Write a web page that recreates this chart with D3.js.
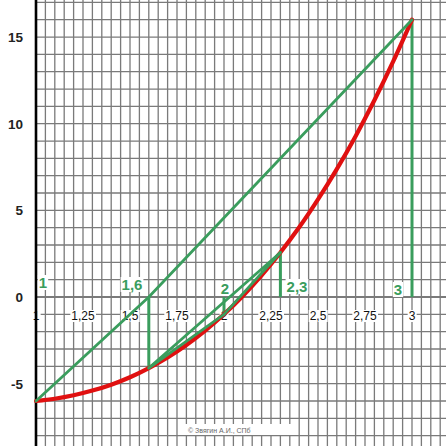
<!DOCTYPE html>
<html><head><meta charset="utf-8">
<script src="https://cdn.jsdelivr.net/npm/d3@7"></script>
<style>html,body{margin:0;padding:0;background:#fff;}svg{display:block;}</style>
</head><body>
<svg id="c" width="446" height="446"></svg>
<script>
// Curve points
const curveX = [1.0, 1.1, 1.2, 1.3, 1.4, 1.5, 1.6, 1.7, 1.8, 1.9, 2.0, 2.1, 2.2, 2.3, 2.4, 2.5, 2.6, 2.7, 2.8, 2.9, 3.0];
const curveY = [-6.0, -5.87, -5.67, -5.40, -5.06, -4.63, -4.10, -3.49, -2.77, -1.94, -1.0, 0.06, 1.25, 2.57, 4.02, 5.63, 7.38, 9.28, 11.35, 13.59, 16.0];
// Approximation points and their labels
const approxX = [1, 1.6, 2, 2.3, 3];
const approxY = [-6.0, -4.10, -1.0, 2.57, 16.0];
const approxLabels = ["1", "1,6", "2", "2,3", "3"];
// main chord drawn through the axis crossing at 1,6
const mainChordX = [1, 1.6, 3];
const mainChordY = [-6.0, 0, 16.0];
// other chord segments as index pairs into approx arrays
const chords = [[1, 3], [1, 2], [2, 3]];
// verticals from axis to curve (indices)
const verticals = [1, 2, 3, 4];
// axis tick labels
const xTickVals = [1, 1.25, 1.5, 1.75, 2, 2.25, 2.5, 2.75, 3];
const xTickLabels = ["1", "1,25", "1,5", "1,75", "2", "2,25", "2,5", "2,75", "3"];
const yTickVals = [15, 10, 5, 0, -5];

const svg = d3.select("#c");
const x = d3.scaleLinear().domain([1, 1 + 410 / 188]).range([36, 446]);
const y = d3.scaleLinear().domain([-(446 - 297) / 17.33, 297 / 17.33]).range([446, 0]);

const gridCol = "#7a7a7a";
const vx = d3.range(1, 64).map(i => 1 + i * 0.05).filter(v => x(v) < 446);
svg.append("g").selectAll("line").data(vx).join("line")
  .attr("x1", d => x(d)).attr("x2", d => x(d)).attr("y1", 0).attr("y2", 446)
  .attr("stroke", gridCol).attr("stroke-width", 1.3);
const hy = d3.range(-8, 18);
svg.append("g").selectAll("line").data(hy).join("line")
  .attr("x1", 36).attr("x2", 446).attr("y1", d => y(d)).attr("y2", d => y(d))
  .attr("stroke", gridCol).attr("stroke-width", 1.3);

// watermark
svg.append("rect").attr("x", 183).attr("y", 424).attr("width", 112).attr("height", 11).attr("fill", "#fff");
svg.append("text").attr("x", 188).attr("y", 433).attr("font-family", "Liberation Sans, Arial, sans-serif")
  .attr("font-size", 7).attr("fill", "#666").text("© Звягин А.И., СПб");

// x axis
svg.append("line").attr("x1", 36).attr("x2", 446).attr("y1", y(0)).attr("y2", y(0))
  .attr("stroke", "#7a7a7a").attr("stroke-width", 2.2);

function addBg(sel, pad) {
  sel.each(function () {
    const b = this.getBBox();
    d3.select(this.parentNode).insert("rect", () => this)
      .attr("x", b.x - pad).attr("y", b.y + 1).attr("width", b.width + 2 * pad).attr("height", b.height - 2)
      .attr("fill", "#fff");
  });
}

const xl = svg.append("g").selectAll("text").data(xTickVals).join("text")
  .attr("x", d => x(d)).attr("y", y(0) + 23).attr("text-anchor", "middle")
  .attr("font-family", "Liberation Sans, Arial, sans-serif").attr("font-size", 12).attr("fill", "#111")
  .text((d, i) => xTickLabels[i]);
addBg(xl, 1);

// y axis
svg.append("line").attr("x1", 36).attr("x2", 36).attr("y1", 0).attr("y2", 446)
  .attr("stroke", "#000").attr("stroke-width", 2.6);

svg.append("g").selectAll("text").data(yTickVals).join("text")
  .attr("x", 23).attr("y", d => y(d) + 5).attr("text-anchor", "end")
  .attr("font-family", "Liberation Sans, Arial, sans-serif").attr("font-weight", "bold")
  .attr("font-size", 13.5).attr("fill", "#222").text(d => d);

const green = "#3a9d5d";
const labPos = [[43, 288], [132, 290], [225, 294], [297, 292], [398, 295]];
const gl = svg.append("g").selectAll("text").data(approxLabels).join("text")
  .attr("x", (d, i) => labPos[i][0]).attr("y", (d, i) => labPos[i][1]).attr("text-anchor", "middle")
  .attr("font-family", "Liberation Sans, Arial, sans-serif").attr("font-weight", "bold")
  .attr("font-size", 15).attr("fill", green).text(d => d);
addBg(gl, 1);

svg.append("g").selectAll("line").data(verticals).join("line")
  .attr("x1", i => x(approxX[i])).attr("x2", i => x(approxX[i]))
  .attr("y1", y(0)).attr("y2", i => y(approxY[i]))
  .attr("stroke", green).attr("stroke-width", 3);

const pts = curveX.map((v, i) => [v, curveY[i]]);
svg.append("path").datum(pts)
  .attr("d", d3.line().x(d => x(d[0])).y(d => y(d[1])).curve(d3.curveMonotoneX))
  .attr("fill", "none").attr("stroke", "#e01010").attr("stroke-width", 4.2).attr("stroke-linecap", "round");

svg.append("path").datum(mainChordX.map((v, i) => [v, mainChordY[i]]))
  .attr("d", d3.line().x(d => x(d[0])).y(d => y(d[1])))
  .attr("fill", "none").attr("stroke", green).attr("stroke-width", 2.8).attr("stroke-linecap", "round");
svg.append("g").selectAll("line").data(chords).join("line")
  .attr("x1", d => x(approxX[d[0]])).attr("y1", d => y(approxY[d[0]]))
  .attr("x2", d => x(approxX[d[1]])).attr("y2", d => y(approxY[d[1]]))
  .attr("stroke", green).attr("stroke-width", 2.8).attr("stroke-linecap", "round");
</script>
</body></html>
